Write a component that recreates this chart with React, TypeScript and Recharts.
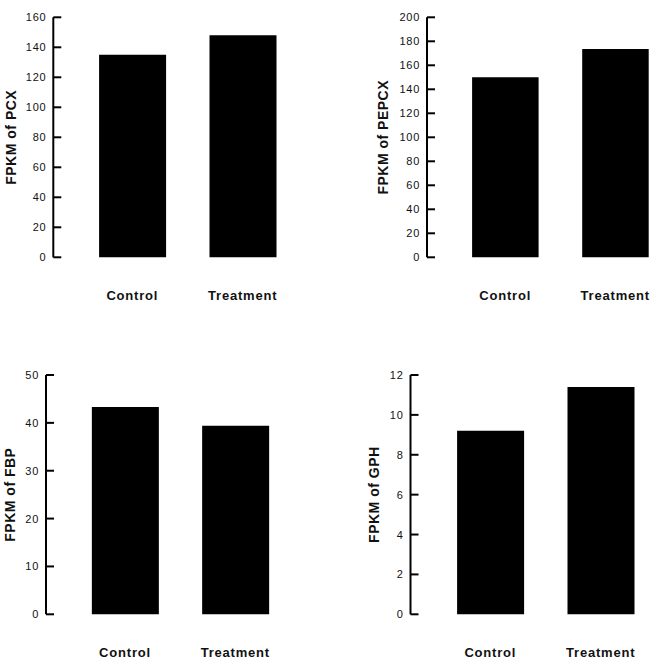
import { BarChart, Bar, XAxis, YAxis } from "recharts";

const categories = ["Control", "Treatment"];

const pcxValues = [135, 148];
const pepcxValues = [150, 173.5];
const fbpValues = [43.3, 39.4];
const gphValues = [9.2, 11.4];

const pcxTicks = [0, 20, 40, 60, 80, 100, 120, 140, 160];
const pepcxTicks = [0, 20, 40, 60, 80, 100, 120, 140, 160, 180, 200];
const fbpTicks = [0, 10, 20, 30, 40, 50];
const gphTicks = [0, 2, 4, 6, 8, 10, 12];

const FONT = '"Liberation Sans", Arial, sans-serif';

type PanelProps = {
  left: number;
  top: number;
  width: number;
  height: number;
  axisX: number;
  plotTop: number;
  plotBottom: number;
  bandStart: number;
  band: number;
  barSize: number;
  values: number[];
  ticks: number[];
  title: string;
  titleX: number;
};

function YTick(props: any) {
  const { x, y, payload } = props;
  return (
    <g>
      <line x1={x} x2={x + 8} y1={y} y2={y} stroke="#000" strokeWidth={2} />
      <text
        x={x - 7}
        y={y}
        textAnchor="end"
        dominantBaseline="central"
        fontFamily={FONT}
        fontSize={11}
        letterSpacing={0.7}
        fill="#111"
      >
        {payload.value}
      </text>
    </g>
  );
}

function Panel(p: PanelProps) {
  const data = categories.map((name, i) => ({ name, value: p.values[i] }));
  const plotRight = p.bandStart + 2 * p.band;
  const titleY = (p.plotTop + p.plotBottom) / 2 - p.top;
  const tx = p.titleX - p.left;
  return (
    <div style={{ position: "absolute", left: p.left, top: p.top }}>
      <BarChart
        width={p.width}
        height={p.height}
        data={data}
        margin={{ top: p.plotTop - p.top, right: p.left + p.width - plotRight, left: 0, bottom: 0 }}
      >
        <XAxis
          dataKey="name"
          axisLine={false}
          tickLine={false}
          tickSize={0}
          tickMargin={33}
          interval={0}
          height={p.top + p.height - p.plotBottom}
          padding={{ left: p.bandStart - p.axisX, right: 0 }}
          tick={{ fill: "#111", fontSize: 13, fontWeight: 700, fontFamily: FONT, letterSpacing: 0.8 }}
        />
        <YAxis
          domain={[0, p.ticks[p.ticks.length - 1]]}
          ticks={p.ticks}
          interval={0}
          width={p.axisX - p.left}
          tickSize={0}
          tickMargin={0}
          tickLine={false}
          axisLine={{ stroke: "#000", strokeWidth: 2 }}
          tick={(t: any) => <YTick {...t} />}
          label={{
            content: () => (
              <text
                x={tx}
                y={titleY}
                transform={`rotate(-90 ${tx} ${titleY})`}
                textAnchor="middle"
                dominantBaseline="central"
                fontFamily={FONT}
                fontSize={14}
                fontWeight={700}
                letterSpacing={0.5}
                fill="#111"
              >
                {p.title}
              </text>
            ),
          }}
        />
        <Bar dataKey="value" fill="#000" barSize={p.barSize} isAnimationActive={false} />
      </BarChart>
    </div>
  );
}

export default function App() {
  return (
    <div
      style={{
        position: "absolute",
        left: 0,
        top: 0,
        width: 661,
        height: 662,
        overflow: "hidden",
        background: "#fff",
      }}
    >
      <Panel
        left={0} top={0} width={330} height={330}
        axisX={53.3} plotTop={17.3} plotBottom={257.3}
        bandStart={77.1} band={110.4} barSize={67}
        values={pcxValues} ticks={pcxTicks} title="FPKM of PCX" titleX={11}
      />
      <Panel
        left={330} top={0} width={345} height={330}
        axisX={427} plotTop={17.3} plotBottom={257.3}
        bandStart={450.1} band={110.1} barSize={66.5}
        values={pepcxValues} ticks={pepcxTicks} title="FPKM of PEPCX" titleX={383.3}
      />
      <Panel
        left={0} top={360} width={330} height={302}
        axisX={46} plotTop={375} plotBottom={614.3}
        bandStart={69.85} band={110.3} barSize={67}
        values={fbpValues} ticks={fbpTicks} title="FPKM of FBP" titleX={10}
      />
      <Panel
        left={330} top={360} width={331} height={302}
        axisX={410.5} plotTop={375} plotBottom={614.3}
        bandStart={435.1} band={110.4} barSize={67}
        values={gphValues} ticks={gphTicks} title="FPKM of GPH" titleX={374.3}
      />
    </div>
  );
}
